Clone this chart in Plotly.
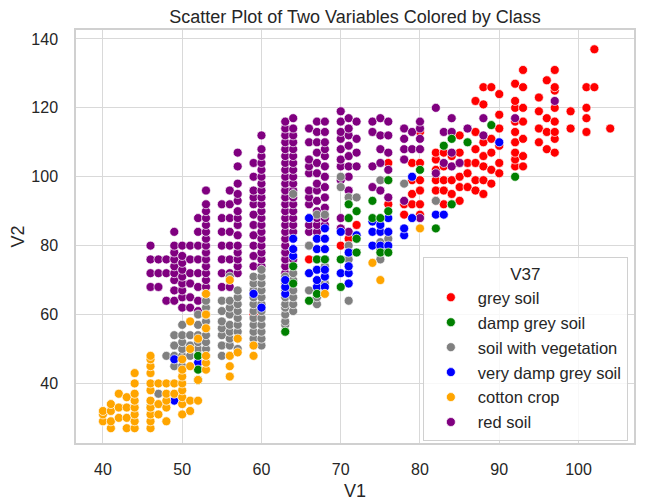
import plotly.graph_objects as go

# V1 column -> V2 values, one dict per class
grey_soil = {
    59: [60], 66: [76], 70: [80], 71: [82], 72: [86], 75: [84],
    76: [84, 92, 99, 104],
    78: [89, 92],
    79: [92, 95, 99, 104],
    80: [89, 92, 96, 99, 104, 108, 113],
    82: [93, 96, 99, 102, 105, 107],
    83: [92, 96, 99, 103, 107],
    84: [92, 95, 99, 103, 106],
    85: [93, 97, 100, 104, 107, 112],
    86: [97, 101, 104],
    87: [96, 99, 104, 108, 113, 122],
    88: [95, 99, 103, 106, 110, 121, 126],
    89: [98, 102, 107, 111, 126],
    90: [101, 104, 109, 114, 118, 124],
    92: [103, 105, 107, 110, 113, 116, 120, 122, 127],
    93: [103, 106, 111, 116, 120, 126, 131],
    95: [110, 114, 119, 123],
    96: [108, 113, 117, 128],
    97: [107, 111, 113, 116, 120, 125, 126, 131],
    99: [114, 119],
    101: [113, 117, 120, 126],
    102: [126, 137],
    104: [114],
}

damp_grey_soil = {
    46: [33], 52: [41, 44, 48], 63: [55], 64: [69, 74], 66: [64],
    67: [66, 76], 68: [76], 70: [68, 76], 71: [88, 92], 72: [78, 82, 90],
    74: [88, 93], 75: [78, 88], 76: [78, 90, 99], 80: [102], 82: [85],
    83: [109], 84: [92, 111], 86: [110], 89: [115], 92: [100],
}

soil_with_vegetation = {
    47: [37], 48: [48],
    49: [45, 48, 51, 54],
    50: [45, 48, 50, 52, 54, 57],
    51: [48, 51, 54],
    52: [48, 50, 52, 54, 57, 60],
    53: [48, 50, 52, 54, 56, 58, 60, 62, 64],
    55: [48, 51, 54, 56, 58, 61, 64],
    56: [48, 51, 53, 55, 57, 60, 62, 64, 71],
    57: [50, 53, 55, 57, 59, 61, 63, 65, 67],
    59: [51, 53, 55, 57, 59, 61, 63, 65, 67, 69, 71],
    60: [51, 53, 55, 57, 59, 61, 63, 65, 67, 69, 71, 73],
    63: [55, 57, 58, 60, 62, 63, 65, 67, 69, 71],
    64: [61, 63, 65, 67, 70, 72, 95],
    66: [67, 72, 80],
    67: [63, 65, 68, 89],
    68: [66, 69, 71, 74, 89],
    70: [97, 100], 71: [64, 76, 80, 94], 72: [94],
    75: [76, 79, 81, 99], 76: [82], 78: [98], 82: [93],
}

very_damp_grey_soil = {
    49: [35, 47], 52: [46], 59: [66], 60: [62],
    63: [66, 68, 70],
    64: [77, 79, 82],
    66: [72, 88],
    67: [68, 70, 73, 76, 79, 82],
    68: [68, 71, 73, 76, 79, 82, 85],
    70: [72, 84],
    71: [69, 72, 74, 78],
    72: [83],
    74: [80, 84, 87], 75: [80, 84, 86], 76: [80, 84, 88],
    78: [83, 85], 79: [88, 100], 82: [89], 83: [89], 90: [110],
}

cotton_crop = {
    40: [29, 31, 32],
    41: [27, 29, 32, 34],
    42: [30, 33, 37],
    43: [27, 30, 33, 36],
    44: [27, 29, 31, 33, 35, 37, 40, 43],
    46: [27, 29, 31, 33, 35, 38, 40, 43, 45, 47, 48],
    47: [31, 34, 40],
    48: [29, 33, 35, 37, 40],
    49: [37, 40],
    50: [31, 34, 36, 38, 40, 42, 44, 47],
    51: [32, 35, 45, 50, 58],
    52: [35, 41, 53],
    53: [44, 46, 48, 56, 60, 66],
    56: [42, 45, 48, 70],
    57: [49, 53],
    59: [48, 51],
    68: [66], 74: [75], 75: [70], 80: [85],
}

red_soil = {
    46: [68, 72, 76, 80],
    47: [68, 72, 76],
    48: [64, 72, 76],
    49: [64, 67, 70, 72, 74, 76, 78, 80, 84],
    50: [62, 65, 67, 69, 71, 73, 75, 77, 80],
    51: [62, 65, 69, 72, 76, 80],
    52: [61, 64, 68, 72, 76, 80, 84, 88],
    53: [66, 68, 70, 72, 74, 76, 78, 80, 82, 84, 86, 88, 90, 92, 96],
    55: [68, 72, 76, 80, 84, 88, 92],
    56: [68, 72, 76, 80, 84, 88, 92, 96],
    57: [72, 74, 76, 78, 80, 83, 86, 88, 90, 93, 95, 98, 103, 107],
    59: [74, 77, 80, 83, 86, 89, 92, 94, 96, 100, 104],
    60: [74, 76, 78, 80, 82, 84, 86, 88, 90, 92, 94, 96, 98, 100, 102,
         104, 106, 108, 112],
    63: [68, 70, 72, 74, 76, 78, 80, 82, 84, 86, 88, 90, 92, 94, 96, 98,
         100, 102, 104, 106, 108, 110, 112, 114, 116],
    64: [74, 76, 79, 84, 86, 88, 90, 92, 94, 96, 98, 100, 102, 104, 106,
         108, 110, 112, 114, 117],
    66: [80, 84, 86, 88, 92, 94, 96, 101, 103, 105, 110, 114],
    67: [84, 86, 88, 90, 93, 96, 98, 101, 104, 107, 110, 113, 116],
    68: [86, 88, 91, 94, 97, 100, 103, 106, 108, 110, 113, 116],
    70: [85, 88, 99, 103, 105, 108, 111, 113, 116, 119],
    71: [84, 96, 100, 103, 106, 109, 112, 114, 117],
    72: [103, 107, 111, 116],
    74: [97, 103, 113, 116],
    75: [96, 104, 108, 112, 117],
    76: [94, 102, 107, 112, 116],
    78: [93, 105, 108, 111, 114],
    79: [108, 113],
    80: [88, 108, 111, 114, 116],
    82: [101, 120], 83: [104, 113], 84: [103, 107, 113, 117],
    85: [104], 86: [114], 88: [112, 117], 92: [117], 97: [122],
}

x_ticks = [40, 50, 60, 70, 80, 90, 100]
y_ticks = [40, 60, 80, 100, 120, 140]

# (name, data, colour, legend position); list order = drawing order
classes = [
    ("grey soil", grey_soil, "red", 1),
    ("red soil", red_soil, "purple", 6),
    ("soil with vegetation", soil_with_vegetation, "grey", 3),
    ("very damp grey soil", very_damp_grey_soil, "blue", 4),
    ("damp grey soil", damp_grey_soil, "green", 2),
    ("cotton crop", cotton_crop, "orange", 5),
]


def flatten(columns):
    xs, ys = [], []
    for v1, v2s in columns.items():
        for v2 in v2s:
            xs.append(v1)
            ys.append(v2)
    return xs, ys


fig = go.Figure()
for name, columns, colour, rank in classes:
    xs, ys = flatten(columns)
    fig.add_trace(go.Scatter(
        x=xs, y=ys, mode="markers", name=name,
        legendrank=rank, legendgroup=name,
        marker=dict(size=9, color=colour, line=dict(color="white", width=0.7)),
    ))

text_col = "#262626"
axis_common = dict(
    showgrid=True, gridcolor="#d9d9d9", gridwidth=1.3,
    showline=True, mirror=True, linecolor="#d0d0d0", linewidth=1.5,
    zeroline=False, ticks="outside", tickcolor="rgba(0,0,0,0)",
    tickfont=dict(size=16, color=text_col), automargin=False,
)

# the page body has an 8px margin, so the figure is 8px smaller than the window
fig.update_layout(
    width=652, height=495,
    margin=dict(l=68, r=26, t=22, b=60),
    paper_bgcolor="white", plot_bgcolor="white",
    font=dict(family="Liberation Sans, Arial, sans-serif", color=text_col),
    title=dict(text="Scatter Plot of Two Variables Colored by Class",
               x=0.5, xref="paper", y=0.982, yanchor="middle",
               font=dict(size=18, color=text_col)),
    xaxis=dict(axis_common, range=[36.6, 107.0], tickvals=x_ticks, ticklen=11,
               title=dict(text="V1", font=dict(size=18), standoff=7)),
    yaxis=dict(axis_common, range=[22.7, 142.6], tickvals=y_ticks, ticklen=13,
               title=dict(text="V2", font=dict(size=18), standoff=4)),
    legend=dict(
        title=dict(text="V37", side="top center", font=dict(size=17)),
        x=0.989, y=0.005, xanchor="right", yanchor="bottom",
        bgcolor="rgba(255,255,255,0.8)", bordercolor="#d0d0d0", borderwidth=1,
        font=dict(size=16.5, color=text_col), tracegroupgap=0.5, itemwidth=44,
    ),
)

fig.write_html("out.html")
